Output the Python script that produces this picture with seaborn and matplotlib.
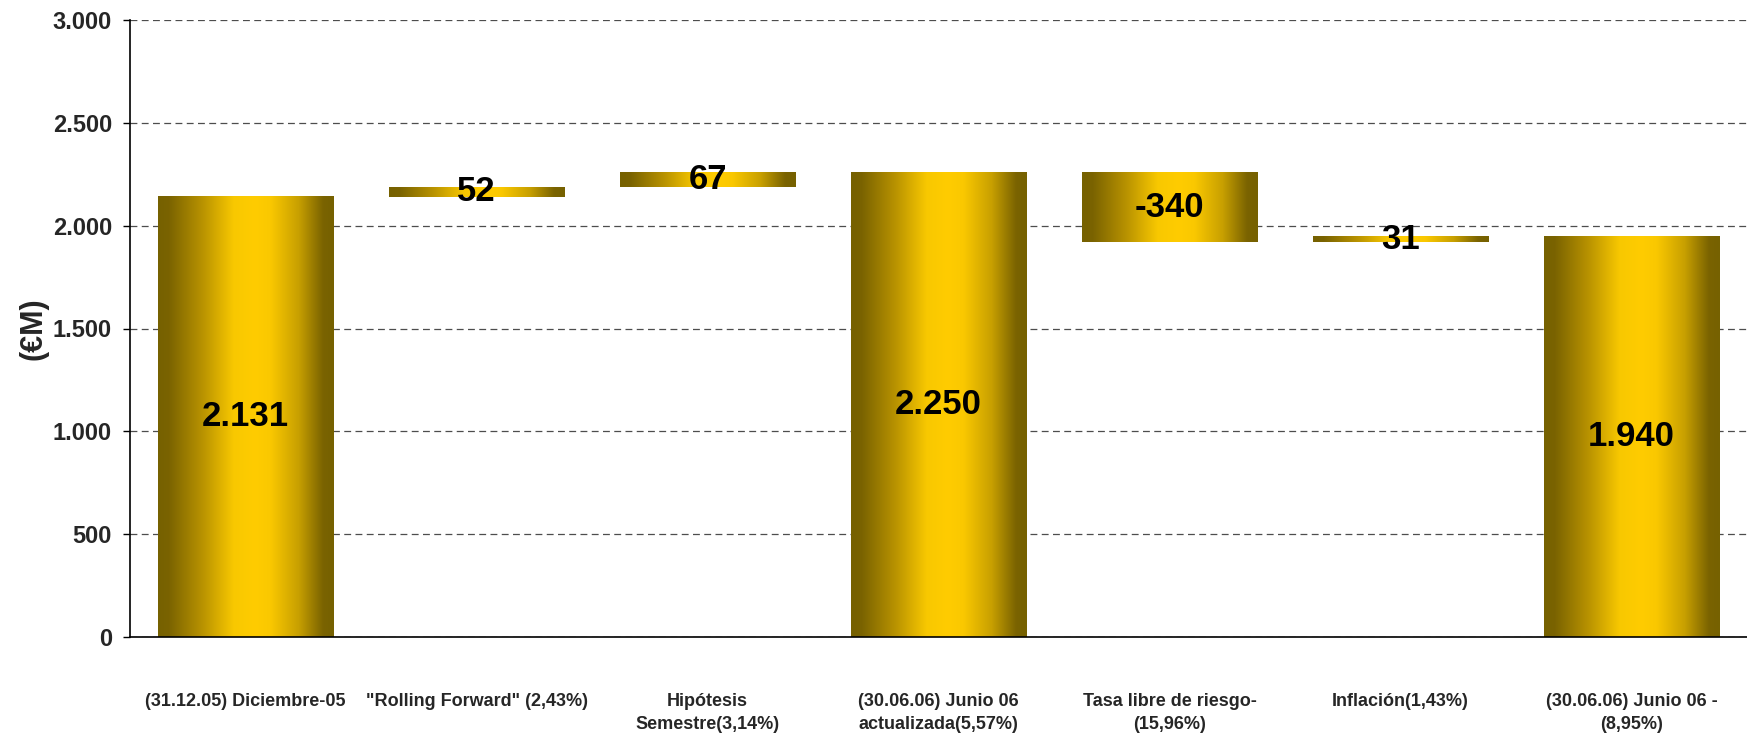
import numpy as np
import pandas as pd
import matplotlib
matplotlib.use("Agg")
import matplotlib.pyplot as plt
from matplotlib.colors import LinearSegmentedColormap
import seaborn as sns

# ---- data ----
categories = [
    "(31.12.05) Diciembre-05",
    "\"Rolling Forward\" (2,43%)",
    "Hipótesis\nSemestre(3,14%)",
    "(30.06.06) Junio 06\nactualizada(5,57%)",
    "Tasa libre de riesgo-\n(15,96%)",
    "Inflación(1,43%)",
    "(30.06.06) Junio 06 -\n(8,95%)",
]
bar_bottom = [0, 2141, 2187, 0, 1919, 1919, 0]
bar_top = [2146, 2189, 2262, 2262, 2262, 1951, 1951]
label_values = [2131, 52, 67, 2250, -340, 31, 1940]
y_ticks = [0, 500, 1000, 1500, 2000, 2500, 3000]
y_tick_labels = ["0", "500", "1.000", "1.500", "2.000", "2.500", "3.000"]


def fmt(v):
    s = f"{abs(v):,}".replace(",", ".")
    return ("-" if v < 0 else "") + s


df = pd.DataFrame({
    "cat": categories,
    "height": np.array(bar_top) - np.array(bar_bottom),
    "bottom": bar_bottom,
    "label": [fmt(v) for v in label_values],
})

sns.set_theme(style="white")
plt.rcParams["font.family"] = ["Liberation Sans", "DejaVu Sans"]
plt.rcParams["font.weight"] = "bold"

fig = plt.figure(figsize=(17.47, 7.37), dpi=100)
ax = fig.add_axes([130 / 1747, 1 - 637 / 737, 1 - 130 / 1747, (637 - 20) / 737])

sns.barplot(data=df, x="cat", y="height", order=categories, bottom=df["bottom"].values,
            width=0.76, errorbar=None, color="#ffcc00", linewidth=0, ax=ax, zorder=2)

cmap = LinearSegmentedColormap.from_list("gold", [
    (0.00, "#766100"), (0.06, "#7a6300"), (0.25, "#b89200"), (0.43, "#f8c800"),
    (0.55, "#ffcc00"), (0.64, "#fac800"), (0.80, "#c8a000"), (0.94, "#7a6300"),
    (1.00, "#766100")])
grad = np.linspace(0, 1, 256).reshape(1, -1)

for p, lab in zip(ax.patches, df["label"]):
    x, y = p.get_x(), p.get_y()
    w, h = p.get_width(), p.get_height()
    p.set_facecolor("none")
    im = ax.imshow(grad, cmap=cmap, aspect="auto", extent=[x, x + w, y, y + h],
                   zorder=2, interpolation="bilinear")
    im.set_clip_path(p)
    ax.text(x + w / 2, y + h / 2, lab, ha="center", va="center",
            fontsize=25, fontweight="bold", color="black", zorder=4)

ax.set_xlim(-0.5, 6.5)
ax.set_ylim(0, 3000)
ax.set_yticks(y_ticks)
ax.set_yticklabels(y_tick_labels, fontsize=17, fontweight="bold")
ax.set_xticks(range(len(categories)))
ax.set_xticklabels(categories, fontsize=13, fontweight="bold", linespacing=1.5)
ax.set_xlabel("")
ax.set_ylabel("(€M)", fontsize=22, fontweight="bold", labelpad=3)

ax.yaxis.grid(True, linestyle=(0, (5.5, 3.5)), color="#4d4d4d", linewidth=0.9, zorder=0)
ax.set_axisbelow(True)
ax.tick_params(axis="y", length=5, width=1, color="black", direction="out", left=True, pad=8)
ax.tick_params(axis="x", length=0, pad=40)

for s in ["top", "right"]:
    ax.spines[s].set_visible(False)
for s in ["left", "bottom"]:
    ax.spines[s].set_color("black")
    ax.spines[s].set_linewidth(1.2)

fig.savefig("out.png", dpi=100)
